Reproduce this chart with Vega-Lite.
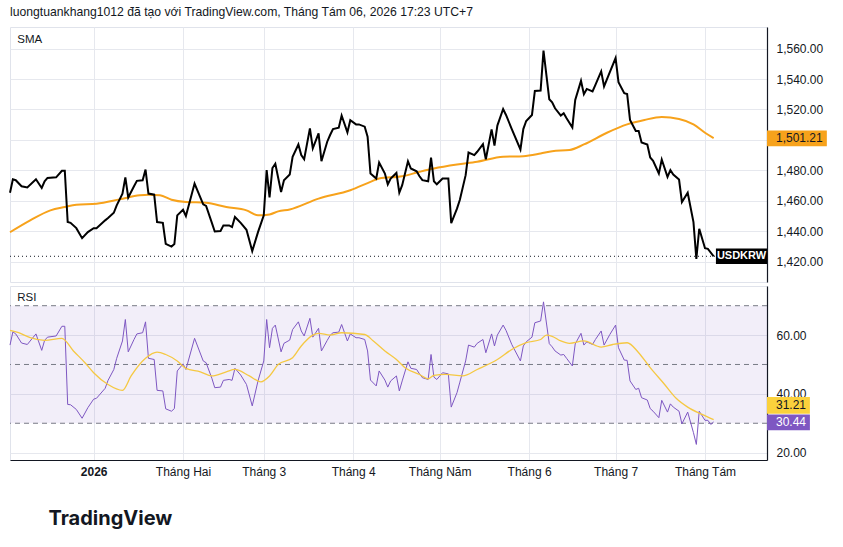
{
  "$schema": "https://vega.github.io/schema/vega-lite/v6.json",
  "background": "white",
  "padding": {"left": 5, "top": 6, "right": 0, "bottom": 0},
  "title": {
    "text": "luongtuankhang1012 đã tạo với TradingView.com, Tháng Tám 06, 2026 17:23 UTC+7",
    "anchor": "start",
    "frame": "group",
    "font": "Liberation Sans",
    "fontSize": 12.2,
    "fontWeight": "normal",
    "color": "#131722",
    "offset": 8
  },
  "config": {
    "font": "Liberation Sans",
    "view": {"stroke": "#e0e3eb"},
    "axis": {
      "labelFont": "Liberation Sans",
      "labelFontSize": 12,
      "labelColor": "#131722",
      "gridColor": "#e6e8ee",
      "ticks": false,
      "domainColor": "#131722",
      "labelOverlap": false
    }
  },
  "spacing": 2,
  "datasets": {
    "price": [
      {"d": "2025-12-03", "v": 1465.3}, {"d": "2025-12-04", "v": 1474.1}, {"d": "2025-12-05", "v": 1473.5},
      {"d": "2025-12-07", "v": 1469.5}, {"d": "2025-12-09", "v": 1468.8}, {"d": "2025-12-12", "v": 1474.1},
      {"d": "2025-12-14", "v": 1468.4}, {"d": "2025-12-15", "v": 1472.8}, {"d": "2025-12-16", "v": 1475.0},
      {"d": "2025-12-19", "v": 1475.4}, {"d": "2025-12-21", "v": 1479.7}, {"d": "2025-12-22", "v": 1479.7},
      {"d": "2025-12-23", "v": 1446.0}, {"d": "2025-12-24", "v": 1445.5}, {"d": "2025-12-26", "v": 1442.0},
      {"d": "2025-12-28", "v": 1435.4}, {"d": "2025-12-30", "v": 1439.4}, {"d": "2026-01-01", "v": 1442.0},
      {"d": "2026-01-02", "v": 1442.0}, {"d": "2026-01-05", "v": 1447.1}, {"d": "2026-01-06", "v": 1448.6},
      {"d": "2026-01-08", "v": 1452.1}, {"d": "2026-01-09", "v": 1457.0}, {"d": "2026-01-11", "v": 1464.7},
      {"d": "2026-01-12", "v": 1475.4}, {"d": "2026-01-13", "v": 1462.2}, {"d": "2026-01-15", "v": 1469.5},
      {"d": "2026-01-16", "v": 1473.1}, {"d": "2026-01-18", "v": 1473.5}, {"d": "2026-01-19", "v": 1480.5},
      {"d": "2026-01-20", "v": 1464.7}, {"d": "2026-01-22", "v": 1464.0}, {"d": "2026-01-23", "v": 1446.0},
      {"d": "2026-01-25", "v": 1445.5}, {"d": "2026-01-26", "v": 1431.7}, {"d": "2026-01-28", "v": 1429.9},
      {"d": "2026-01-29", "v": 1431.5}, {"d": "2026-01-30", "v": 1450.4}, {"d": "2026-02-01", "v": 1454.1},
      {"d": "2026-02-02", "v": 1450.0}, {"d": "2026-02-05", "v": 1471.3}, {"d": "2026-02-08", "v": 1457.6},
      {"d": "2026-02-09", "v": 1456.6}, {"d": "2026-02-11", "v": 1445.5}, {"d": "2026-02-12", "v": 1439.8},
      {"d": "2026-02-14", "v": 1440.1}, {"d": "2026-02-15", "v": 1443.8}, {"d": "2026-02-17", "v": 1443.8},
      {"d": "2026-02-18", "v": 1442.7}, {"d": "2026-02-19", "v": 1449.3}, {"d": "2026-02-21", "v": 1445.5},
      {"d": "2026-02-23", "v": 1440.9}, {"d": "2026-02-25", "v": 1426.9}, {"d": "2026-02-27", "v": 1439.4},
      {"d": "2026-03-01", "v": 1450.4}, {"d": "2026-03-02", "v": 1480.1}, {"d": "2026-03-03", "v": 1462.2},
      {"d": "2026-03-04", "v": 1481.5}, {"d": "2026-03-05", "v": 1484.3}, {"d": "2026-03-07", "v": 1465.8},
      {"d": "2026-03-08", "v": 1473.5}, {"d": "2026-03-10", "v": 1477.2}, {"d": "2026-03-11", "v": 1488.9},
      {"d": "2026-03-13", "v": 1497.0}, {"d": "2026-03-14", "v": 1490.0}, {"d": "2026-03-15", "v": 1487.3},
      {"d": "2026-03-17", "v": 1507.6}, {"d": "2026-03-18", "v": 1494.4}, {"d": "2026-03-20", "v": 1504.3},
      {"d": "2026-03-21", "v": 1486.0}, {"d": "2026-03-23", "v": 1498.8}, {"d": "2026-03-24", "v": 1503.2},
      {"d": "2026-03-25", "v": 1507.1}, {"d": "2026-03-27", "v": 1508.0}, {"d": "2026-03-28", "v": 1516.0},
      {"d": "2026-03-30", "v": 1504.9}, {"d": "2026-03-31", "v": 1512.9}, {"d": "2026-04-02", "v": 1510.2},
      {"d": "2026-04-03", "v": 1510.2}, {"d": "2026-04-05", "v": 1508.7}, {"d": "2026-04-06", "v": 1502.1},
      {"d": "2026-04-07", "v": 1477.9}, {"d": "2026-04-09", "v": 1474.6}, {"d": "2026-04-10", "v": 1485.1},
      {"d": "2026-04-12", "v": 1477.9}, {"d": "2026-04-13", "v": 1470.8}, {"d": "2026-04-14", "v": 1474.6},
      {"d": "2026-04-16", "v": 1478.3}, {"d": "2026-04-17", "v": 1465.3}, {"d": "2026-04-18", "v": 1470.2},
      {"d": "2026-04-20", "v": 1486.0}, {"d": "2026-04-21", "v": 1481.2}, {"d": "2026-04-23", "v": 1479.4},
      {"d": "2026-04-24", "v": 1476.1}, {"d": "2026-04-25", "v": 1473.5}, {"d": "2026-04-27", "v": 1472.8},
      {"d": "2026-04-28", "v": 1488.4}, {"d": "2026-04-29", "v": 1472.8}, {"d": "2026-04-30", "v": 1470.8},
      {"d": "2026-05-02", "v": 1474.6}, {"d": "2026-05-04", "v": 1474.6}, {"d": "2026-05-05", "v": 1445.3},
      {"d": "2026-05-07", "v": 1454.8}, {"d": "2026-05-08", "v": 1460.7}, {"d": "2026-05-10", "v": 1476.8},
      {"d": "2026-05-11", "v": 1491.7}, {"d": "2026-05-13", "v": 1490.0}, {"d": "2026-05-14", "v": 1492.2},
      {"d": "2026-05-16", "v": 1497.2}, {"d": "2026-05-17", "v": 1487.3}, {"d": "2026-05-19", "v": 1506.9},
      {"d": "2026-05-20", "v": 1496.2}, {"d": "2026-05-21", "v": 1509.4}, {"d": "2026-05-23", "v": 1520.3},
      {"d": "2026-05-24", "v": 1516.4}, {"d": "2026-05-26", "v": 1507.1}, {"d": "2026-05-29", "v": 1493.7},
      {"d": "2026-05-30", "v": 1507.1}, {"d": "2026-05-31", "v": 1512.4}, {"d": "2026-06-02", "v": 1516.4},
      {"d": "2026-06-03", "v": 1532.2}, {"d": "2026-06-05", "v": 1532.5}, {"d": "2026-06-06", "v": 1558.7},
      {"d": "2026-06-08", "v": 1526.7}, {"d": "2026-06-09", "v": 1524.7}, {"d": "2026-06-10", "v": 1520.8},
      {"d": "2026-06-12", "v": 1516.0}, {"d": "2026-06-13", "v": 1517.5}, {"d": "2026-06-14", "v": 1514.2},
      {"d": "2026-06-16", "v": 1508.2}, {"d": "2026-06-17", "v": 1526.3}, {"d": "2026-06-19", "v": 1538.8},
      {"d": "2026-06-20", "v": 1530.0}, {"d": "2026-06-21", "v": 1533.5}, {"d": "2026-06-23", "v": 1531.8},
      {"d": "2026-06-24", "v": 1536.2}, {"d": "2026-06-26", "v": 1545.0}, {"d": "2026-06-27", "v": 1535.1},
      {"d": "2026-06-29", "v": 1544.5}, {"d": "2026-07-01", "v": 1553.8}, {"d": "2026-07-02", "v": 1537.9},
      {"d": "2026-07-04", "v": 1530.7}, {"d": "2026-07-05", "v": 1530.2}, {"d": "2026-07-06", "v": 1513.1},
      {"d": "2026-07-08", "v": 1505.8}, {"d": "2026-07-09", "v": 1505.8}, {"d": "2026-07-10", "v": 1498.3},
      {"d": "2026-07-12", "v": 1497.0}, {"d": "2026-07-13", "v": 1488.4}, {"d": "2026-07-14", "v": 1486.3},
      {"d": "2026-07-16", "v": 1477.9}, {"d": "2026-07-17", "v": 1487.1}, {"d": "2026-07-19", "v": 1475.7},
      {"d": "2026-07-20", "v": 1480.1}, {"d": "2026-07-21", "v": 1477.2}, {"d": "2026-07-23", "v": 1473.9},
      {"d": "2026-07-24", "v": 1459.2}, {"d": "2026-07-26", "v": 1465.3}, {"d": "2026-07-28", "v": 1446.0},
      {"d": "2026-07-29", "v": 1421.8}, {"d": "2026-07-30", "v": 1441.6}, {"d": "2026-08-01", "v": 1428.8},
      {"d": "2026-08-02", "v": 1428.4}, {"d": "2026-08-04", "v": 1423.5}
    ],
    "sma": [
      {"d": "2025-12-03", "v": 1439.3}, {"d": "2025-12-10", "v": 1447.1}, {"d": "2025-12-17", "v": 1453.7},
      {"d": "2025-12-22", "v": 1455.9}, {"d": "2025-12-26", "v": 1457.4}, {"d": "2026-01-02", "v": 1458.1},
      {"d": "2026-01-10", "v": 1460.9}, {"d": "2026-01-17", "v": 1463.6}, {"d": "2026-01-20", "v": 1464.0},
      {"d": "2026-01-24", "v": 1463.6}, {"d": "2026-01-28", "v": 1460.7}, {"d": "2026-02-02", "v": 1459.2},
      {"d": "2026-02-09", "v": 1458.7}, {"d": "2026-02-16", "v": 1455.9}, {"d": "2026-02-23", "v": 1453.7},
      {"d": "2026-02-27", "v": 1450.4}, {"d": "2026-03-03", "v": 1451.0}, {"d": "2026-03-06", "v": 1453.0},
      {"d": "2026-03-10", "v": 1454.3}, {"d": "2026-03-20", "v": 1461.4}, {"d": "2026-03-31", "v": 1466.9},
      {"d": "2026-04-07", "v": 1472.4}, {"d": "2026-04-10", "v": 1474.6}, {"d": "2026-04-18", "v": 1476.1},
      {"d": "2026-04-24", "v": 1479.0}, {"d": "2026-04-29", "v": 1481.2}, {"d": "2026-05-07", "v": 1483.8},
      {"d": "2026-05-14", "v": 1485.6}, {"d": "2026-05-23", "v": 1488.9}, {"d": "2026-05-30", "v": 1489.3},
      {"d": "2026-06-05", "v": 1491.1}, {"d": "2026-06-09", "v": 1492.6}, {"d": "2026-06-15", "v": 1493.3},
      {"d": "2026-06-20", "v": 1497.0}, {"d": "2026-06-28", "v": 1504.7}, {"d": "2026-07-05", "v": 1510.2},
      {"d": "2026-07-11", "v": 1513.1}, {"d": "2026-07-17", "v": 1515.0}, {"d": "2026-07-23", "v": 1513.7},
      {"d": "2026-07-28", "v": 1510.2}, {"d": "2026-08-01", "v": 1504.7}, {"d": "2026-08-04", "v": 1501.21}
    ],
    "rsi": [
      {"d": "2025-12-03", "v": 56.6}, {"d": "2025-12-04", "v": 61.1}, {"d": "2025-12-05", "v": 60.4},
      {"d": "2025-12-07", "v": 57.3}, {"d": "2025-12-09", "v": 56.8}, {"d": "2025-12-12", "v": 60.4},
      {"d": "2025-12-14", "v": 54.8}, {"d": "2025-12-15", "v": 58.2}, {"d": "2025-12-16", "v": 59.3},
      {"d": "2025-12-19", "v": 59.7}, {"d": "2025-12-21", "v": 63.0}, {"d": "2025-12-22", "v": 63.0},
      {"d": "2025-12-23", "v": 36.4}, {"d": "2025-12-24", "v": 36.3}, {"d": "2025-12-26", "v": 34.7},
      {"d": "2025-12-28", "v": 31.7}, {"d": "2025-12-30", "v": 35.3}, {"d": "2026-01-01", "v": 38.2},
      {"d": "2026-01-02", "v": 38.5}, {"d": "2026-01-05", "v": 41.9}, {"d": "2026-01-06", "v": 44.6},
      {"d": "2026-01-08", "v": 48.3}, {"d": "2026-01-09", "v": 52.1}, {"d": "2026-01-11", "v": 58.0},
      {"d": "2026-01-12", "v": 65.3}, {"d": "2026-01-13", "v": 54.3}, {"d": "2026-01-15", "v": 58.5},
      {"d": "2026-01-16", "v": 60.4}, {"d": "2026-01-18", "v": 60.8}, {"d": "2026-01-19", "v": 64.5},
      {"d": "2026-01-20", "v": 52.1}, {"d": "2026-01-22", "v": 51.7}, {"d": "2026-01-23", "v": 41.2},
      {"d": "2026-01-25", "v": 41.0}, {"d": "2026-01-26", "v": 34.9}, {"d": "2026-01-28", "v": 34.1},
      {"d": "2026-01-29", "v": 35.0}, {"d": "2026-01-30", "v": 47.8}, {"d": "2026-02-01", "v": 50.2},
      {"d": "2026-02-02", "v": 48.3}, {"d": "2026-02-05", "v": 58.9}, {"d": "2026-02-08", "v": 51.2},
      {"d": "2026-02-09", "v": 50.6}, {"d": "2026-02-11", "v": 45.3}, {"d": "2026-02-12", "v": 42.1},
      {"d": "2026-02-14", "v": 42.3}, {"d": "2026-02-15", "v": 44.6}, {"d": "2026-02-17", "v": 44.9},
      {"d": "2026-02-18", "v": 44.6}, {"d": "2026-02-19", "v": 48.7}, {"d": "2026-02-21", "v": 46.4},
      {"d": "2026-02-23", "v": 43.2}, {"d": "2026-02-25", "v": 35.9}, {"d": "2026-02-27", "v": 44.4},
      {"d": "2026-03-01", "v": 51.2}, {"d": "2026-03-02", "v": 65.3}, {"d": "2026-03-03", "v": 55.7},
      {"d": "2026-03-04", "v": 62.3}, {"d": "2026-03-05", "v": 63.4}, {"d": "2026-03-07", "v": 54.3},
      {"d": "2026-03-08", "v": 57.2}, {"d": "2026-03-10", "v": 58.3}, {"d": "2026-03-11", "v": 61.9},
      {"d": "2026-03-13", "v": 64.5}, {"d": "2026-03-14", "v": 61.4}, {"d": "2026-03-15", "v": 59.7},
      {"d": "2026-03-17", "v": 65.7}, {"d": "2026-03-18", "v": 59.3}, {"d": "2026-03-20", "v": 62.3},
      {"d": "2026-03-21", "v": 54.6}, {"d": "2026-03-23", "v": 58.2}, {"d": "2026-03-24", "v": 59.9},
      {"d": "2026-03-25", "v": 60.8}, {"d": "2026-03-27", "v": 61.0}, {"d": "2026-03-28", "v": 63.6},
      {"d": "2026-03-30", "v": 58.0}, {"d": "2026-03-31", "v": 60.4}, {"d": "2026-04-02", "v": 59.1},
      {"d": "2026-04-03", "v": 59.1}, {"d": "2026-04-05", "v": 58.5}, {"d": "2026-04-06", "v": 54.6},
      {"d": "2026-04-07", "v": 44.7}, {"d": "2026-04-09", "v": 42.7}, {"d": "2026-04-10", "v": 47.8},
      {"d": "2026-04-12", "v": 44.7}, {"d": "2026-04-13", "v": 42.3}, {"d": "2026-04-14", "v": 44.4},
      {"d": "2026-04-16", "v": 46.1}, {"d": "2026-04-17", "v": 41.0}, {"d": "2026-04-18", "v": 44.4},
      {"d": "2026-04-20", "v": 50.9}, {"d": "2026-04-21", "v": 48.7}, {"d": "2026-04-23", "v": 48.3},
      {"d": "2026-04-24", "v": 46.8}, {"d": "2026-04-25", "v": 45.5}, {"d": "2026-04-27", "v": 44.9},
      {"d": "2026-04-28", "v": 53.4}, {"d": "2026-04-29", "v": 45.7}, {"d": "2026-04-30", "v": 44.9},
      {"d": "2026-05-02", "v": 47.2}, {"d": "2026-05-04", "v": 46.8}, {"d": "2026-05-05", "v": 35.5},
      {"d": "2026-05-07", "v": 40.4}, {"d": "2026-05-08", "v": 44.0}, {"d": "2026-05-10", "v": 51.2},
      {"d": "2026-05-11", "v": 56.6}, {"d": "2026-05-13", "v": 55.9}, {"d": "2026-05-14", "v": 57.2},
      {"d": "2026-05-16", "v": 58.5}, {"d": "2026-05-17", "v": 54.0}, {"d": "2026-05-19", "v": 60.4},
      {"d": "2026-05-20", "v": 56.3}, {"d": "2026-05-21", "v": 60.0}, {"d": "2026-05-23", "v": 63.4},
      {"d": "2026-05-24", "v": 61.6}, {"d": "2026-05-26", "v": 56.8}, {"d": "2026-05-29", "v": 51.2},
      {"d": "2026-05-30", "v": 56.3}, {"d": "2026-05-31", "v": 57.7}, {"d": "2026-06-02", "v": 59.3},
      {"d": "2026-06-03", "v": 64.2}, {"d": "2026-06-05", "v": 64.8}, {"d": "2026-06-06", "v": 71.3},
      {"d": "2026-06-08", "v": 57.1}, {"d": "2026-06-09", "v": 56.0}, {"d": "2026-06-10", "v": 54.6},
      {"d": "2026-06-12", "v": 53.2}, {"d": "2026-06-13", "v": 53.4}, {"d": "2026-06-14", "v": 52.1},
      {"d": "2026-06-16", "v": 49.5}, {"d": "2026-06-17", "v": 57.0}, {"d": "2026-06-19", "v": 60.6},
      {"d": "2026-06-20", "v": 56.6}, {"d": "2026-06-21", "v": 57.7}, {"d": "2026-06-23", "v": 56.8},
      {"d": "2026-06-24", "v": 58.5}, {"d": "2026-06-26", "v": 61.4}, {"d": "2026-06-27", "v": 56.6},
      {"d": "2026-06-29", "v": 60.2}, {"d": "2026-07-01", "v": 63.4}, {"d": "2026-07-02", "v": 55.7},
      {"d": "2026-07-04", "v": 51.5}, {"d": "2026-07-05", "v": 51.4}, {"d": "2026-07-06", "v": 44.4},
      {"d": "2026-07-08", "v": 41.5}, {"d": "2026-07-09", "v": 41.9}, {"d": "2026-07-10", "v": 38.7},
      {"d": "2026-07-12", "v": 37.9}, {"d": "2026-07-13", "v": 35.0}, {"d": "2026-07-14", "v": 34.1},
      {"d": "2026-07-16", "v": 31.9}, {"d": "2026-07-17", "v": 37.8}, {"d": "2026-07-19", "v": 33.8},
      {"d": "2026-07-20", "v": 36.6}, {"d": "2026-07-21", "v": 35.5}, {"d": "2026-07-23", "v": 34.1},
      {"d": "2026-07-24", "v": 29.8}, {"d": "2026-07-26", "v": 33.8}, {"d": "2026-07-28", "v": 26.8},
      {"d": "2026-07-29", "v": 22.8}, {"d": "2026-07-30", "v": 34.1}, {"d": "2026-08-01", "v": 31.0},
      {"d": "2026-08-02", "v": 31.0}, {"d": "2026-08-03", "v": 29.6}, {"d": "2026-08-04", "v": 30.44}
    ],
    "rsima": [
      {"d": "2025-12-03", "v": 61.6}, {"d": "2025-12-06", "v": 60.8}, {"d": "2025-12-10", "v": 59.1},
      {"d": "2025-12-15", "v": 58.2}, {"d": "2025-12-21", "v": 58.9}, {"d": "2025-12-25", "v": 54.6},
      {"d": "2025-12-29", "v": 50.6}, {"d": "2026-01-01", "v": 47.2}, {"d": "2026-01-06", "v": 43.2},
      {"d": "2026-01-11", "v": 41.2}, {"d": "2026-01-14", "v": 46.1}, {"d": "2026-01-19", "v": 52.1},
      {"d": "2026-01-23", "v": 54.2}, {"d": "2026-01-26", "v": 53.4}, {"d": "2026-01-30", "v": 51.2},
      {"d": "2026-02-02", "v": 48.7}, {"d": "2026-02-07", "v": 47.5}, {"d": "2026-02-11", "v": 46.1},
      {"d": "2026-02-16", "v": 47.5}, {"d": "2026-02-19", "v": 48.3}, {"d": "2026-02-24", "v": 46.1},
      {"d": "2026-02-28", "v": 44.1}, {"d": "2026-03-03", "v": 46.1}, {"d": "2026-03-06", "v": 50.0},
      {"d": "2026-03-11", "v": 52.3}, {"d": "2026-03-14", "v": 56.3}, {"d": "2026-03-18", "v": 60.0},
      {"d": "2026-03-20", "v": 60.6}, {"d": "2026-03-24", "v": 60.0}, {"d": "2026-03-28", "v": 60.8},
      {"d": "2026-04-05", "v": 60.2}, {"d": "2026-04-08", "v": 58.0}, {"d": "2026-04-12", "v": 54.6},
      {"d": "2026-04-16", "v": 51.7}, {"d": "2026-04-19", "v": 48.9}, {"d": "2026-04-24", "v": 46.6},
      {"d": "2026-04-27", "v": 45.1}, {"d": "2026-04-29", "v": 46.3}, {"d": "2026-05-03", "v": 46.6},
      {"d": "2026-05-09", "v": 46.1}, {"d": "2026-05-14", "v": 48.3}, {"d": "2026-05-21", "v": 51.7},
      {"d": "2026-05-26", "v": 55.1}, {"d": "2026-05-31", "v": 57.4}, {"d": "2026-06-05", "v": 58.5},
      {"d": "2026-06-07", "v": 60.0}, {"d": "2026-06-09", "v": 59.6}, {"d": "2026-06-12", "v": 58.0},
      {"d": "2026-06-15", "v": 57.2}, {"d": "2026-06-20", "v": 58.0}, {"d": "2026-06-26", "v": 55.9},
      {"d": "2026-06-30", "v": 56.8}, {"d": "2026-07-05", "v": 57.4}, {"d": "2026-07-09", "v": 54.0},
      {"d": "2026-07-13", "v": 48.9}, {"d": "2026-07-18", "v": 43.2}, {"d": "2026-07-22", "v": 38.5},
      {"d": "2026-07-26", "v": 35.5}, {"d": "2026-07-31", "v": 33.0}, {"d": "2026-08-04", "v": 31.21}
    ]
  },
  "vconcat": [
    {
      "width": 757,
      "height": 255,
      "encoding": {
        "x": {
          "field": "d", "type": "temporal",
          "scale": {"type": "utc", "domain": [{"year": 2025, "month": 12, "date": 3, "utc": true}, {"year": 2026, "month": 8, "date": 22, "hours": 12, "utc": true}]},
          "axis": {"title": null, "labels": false, "domain": false, "grid": true, "tickCount": "month"}
        },
        "y": {
          "field": "v", "type": "quantitative",
          "scale": {"domain": [1406.6, 1574.2], "nice": false, "zero": false},
          "axis": {"orient": "right", "title": null, "values": [1420, 1440, 1460, 1480, 1500, 1520, 1540, 1560], "format": ",.2f", "labelExpr": "datum.value == 1500 ? '' : datum.label", "labelPadding": 9, "labelOverlap": false, "grid": true, "domain": true, "domainWidth": 1.2, "domainColor": "#131722"}
        }
      },
      "layer": [
        {
          "data": {"name": "sma"},
          "mark": {"type": "line", "color": "#f7a21b", "strokeWidth": 2, "interpolate": "monotone"}
        },
        {
          "data": {"name": "price"},
          "mark": {"type": "line", "color": "#000000", "strokeWidth": 2}
        },
        {
          "data": {"values": [{"d": "2025-12-03", "d2": "2026-08-22T12:00:00Z", "v": 1423.5}]},
          "mark": {"type": "rule", "color": "#131722", "strokeDash": [1, 3], "strokeWidth": 1},
          "encoding": {"x2": {"field": "d2"}}
        },
        {
          "data": {"values": [{"d": "2026-08-04T19:00:00Z", "d2": "2026-08-22T12:00:00Z", "v": 1418.4, "v2": 1428.6}]},
          "mark": {"type": "rect", "color": "#000000"},
          "encoding": {"x2": {"field": "d2"}, "y2": {"field": "v2"}}
        },
        {
          "data": {"values": [{"d": "2026-08-13T16:00:00Z", "v": 1423.5, "t": "USDKRW"}]},
          "mark": {"type": "text", "color": "white", "fontSize": 11, "fontWeight": "bold", "align": "center", "baseline": "middle"},
          "encoding": {"text": {"field": "t"}}
        },
        {
          "data": {"values": [{"d": "2026-08-22T12:00:00Z", "d2": "2026-09-12T06:00:00Z", "v": 1495.9, "v2": 1506.2}]},
          "mark": {"type": "rect", "color": "#f7a21b"},
          "encoding": {"x2": {"field": "d2"}, "y2": {"field": "v2"}}
        },
        {
          "data": {"values": [{"d": "2026-08-22T12:00:00Z", "v": 1501.21, "t": "1,501.21"}]},
          "mark": {"type": "text", "color": "#131722", "fontSize": 12, "align": "left", "baseline": "middle", "dx": 9},
          "encoding": {"text": {"field": "t"}}
        },
        {
          "data": {"values": [{"d": "2025-12-05T12:00:00Z", "v": 1565.7, "t": "SMA"}]},
          "mark": {"type": "text", "color": "#131722", "fontSize": 11.5, "align": "left", "baseline": "middle"},
          "encoding": {"text": {"field": "t"}}
        }
      ]
    },
    {
      "width": 757,
      "height": 174,
      "layer": [
        {
          "data": {"values": [{"lo": 30, "hi": 70}]},
          "mark": {"type": "rect", "color": "#7e57c2", "opacity": 0.1},
          "encoding": {
            "y": {"field": "lo", "type": "quantitative", "scale": {"domain": [17.5, 76.7], "nice": false, "zero": false},
              "axis": {"orient": "right", "title": null, "values": [20, 40, 60], "format": ".2f", "labelPadding": 9, "labelOverlap": false, "grid": true, "domain": true, "domainWidth": 1.2, "domainColor": "#131722"}},
            "y2": {"field": "hi"}
          }
        },
        {
          "data": {"values": [{"r": 70}, {"r": 50}, {"r": 30}]},
          "mark": {"type": "rule", "color": "#787b86", "strokeDash": [5, 4], "strokeWidth": 1},
          "encoding": {"y": {"field": "r", "type": "quantitative"}}
        },
        {
          "data": {"name": "rsi"},
          "mark": {"type": "line", "color": "#7e57c2", "strokeWidth": 1},
          "encoding": {
            "x": {
              "field": "d", "type": "temporal",
              "scale": {"type": "utc", "domain": [{"year": 2025, "month": 12, "date": 3, "utc": true}, {"year": 2026, "month": 8, "date": 22, "hours": 12, "utc": true}]},
              "axis": {
                "title": "TradingView",
                "titleFont": "Inter",
                "titleFontSize": 20,
                "titleFontWeight": "bold",
                "titleColor": "#131722",
                "titleAnchor": "start",
                "titleAlign": "left",
                "titleBaseline": "middle",
                "titleX": 38,
                "titleY": 58,
                "grid": true,
                "domain": true,
                "domainColor": "#131722",
                "tickCount": "month",
                "labelPadding": 6,
                "labelExpr": "utcmonth(datum.value) == 0 ? '2026' : ['2026','Tháng Hai','Tháng 3','Tháng 4','Tháng Năm','Tháng 6','Tháng 7','Tháng Tám','Tháng 9','Tháng 10','Tháng 11','Tháng 12'][utcmonth(datum.value)]",
                "labelFontWeight": {"condition": {"test": "utcmonth(datum.value) == 0", "value": "bold"}, "value": "normal"}
              }
            },
            "y": {"field": "v", "type": "quantitative"}
          }
        },
        {
          "data": {"name": "rsima"},
          "mark": {"type": "line", "color": "#f5c842", "strokeWidth": 1.3, "interpolate": "monotone"},
          "encoding": {
            "x": {"field": "d", "type": "temporal"},
            "y": {"field": "v", "type": "quantitative"}
          }
        },
        {
          "data": {"values": [
            {"a": "2026-08-22T12:00:00Z", "b": "2026-09-06T09:00:00Z", "lo": 33.2, "hi": 38.9, "t": "31.21", "m": 36.05, "bg": "#fbd13c", "fg": "#131722"},
            {"a": "2026-08-22T12:00:00Z", "b": "2026-09-06T09:00:00Z", "lo": 27.6, "hi": 33.0, "t": "30.44", "m": 30.3, "bg": "#7e57c2", "fg": "#ffffff"}
          ]},
          "layer": [
            {
              "mark": {"type": "rect"},
              "encoding": {
                "x": {"field": "a", "type": "temporal"}, "x2": {"field": "b"},
                "y": {"field": "lo", "type": "quantitative"}, "y2": {"field": "hi"},
                "color": {"field": "bg", "type": "nominal", "scale": null}
              }
            },
            {
              "mark": {"type": "text", "fontSize": 12, "align": "left", "baseline": "middle", "dx": 9},
              "encoding": {
                "x": {"field": "a", "type": "temporal"},
                "y": {"field": "m", "type": "quantitative"},
                "text": {"field": "t"},
                "color": {"field": "fg", "type": "nominal", "scale": null}
              }
            }
          ]
        },
        {
          "data": {"values": [{"d": "2025-12-05T12:00:00Z", "r": 72.6, "t": "RSI"}]},
          "mark": {"type": "text", "color": "#131722", "fontSize": 11.5, "align": "left", "baseline": "middle"},
          "encoding": {
            "x": {"field": "d", "type": "temporal"},
            "y": {"field": "r", "type": "quantitative"},
            "text": {"field": "t"}
          }
        }
      ]
    }
  ]
}
